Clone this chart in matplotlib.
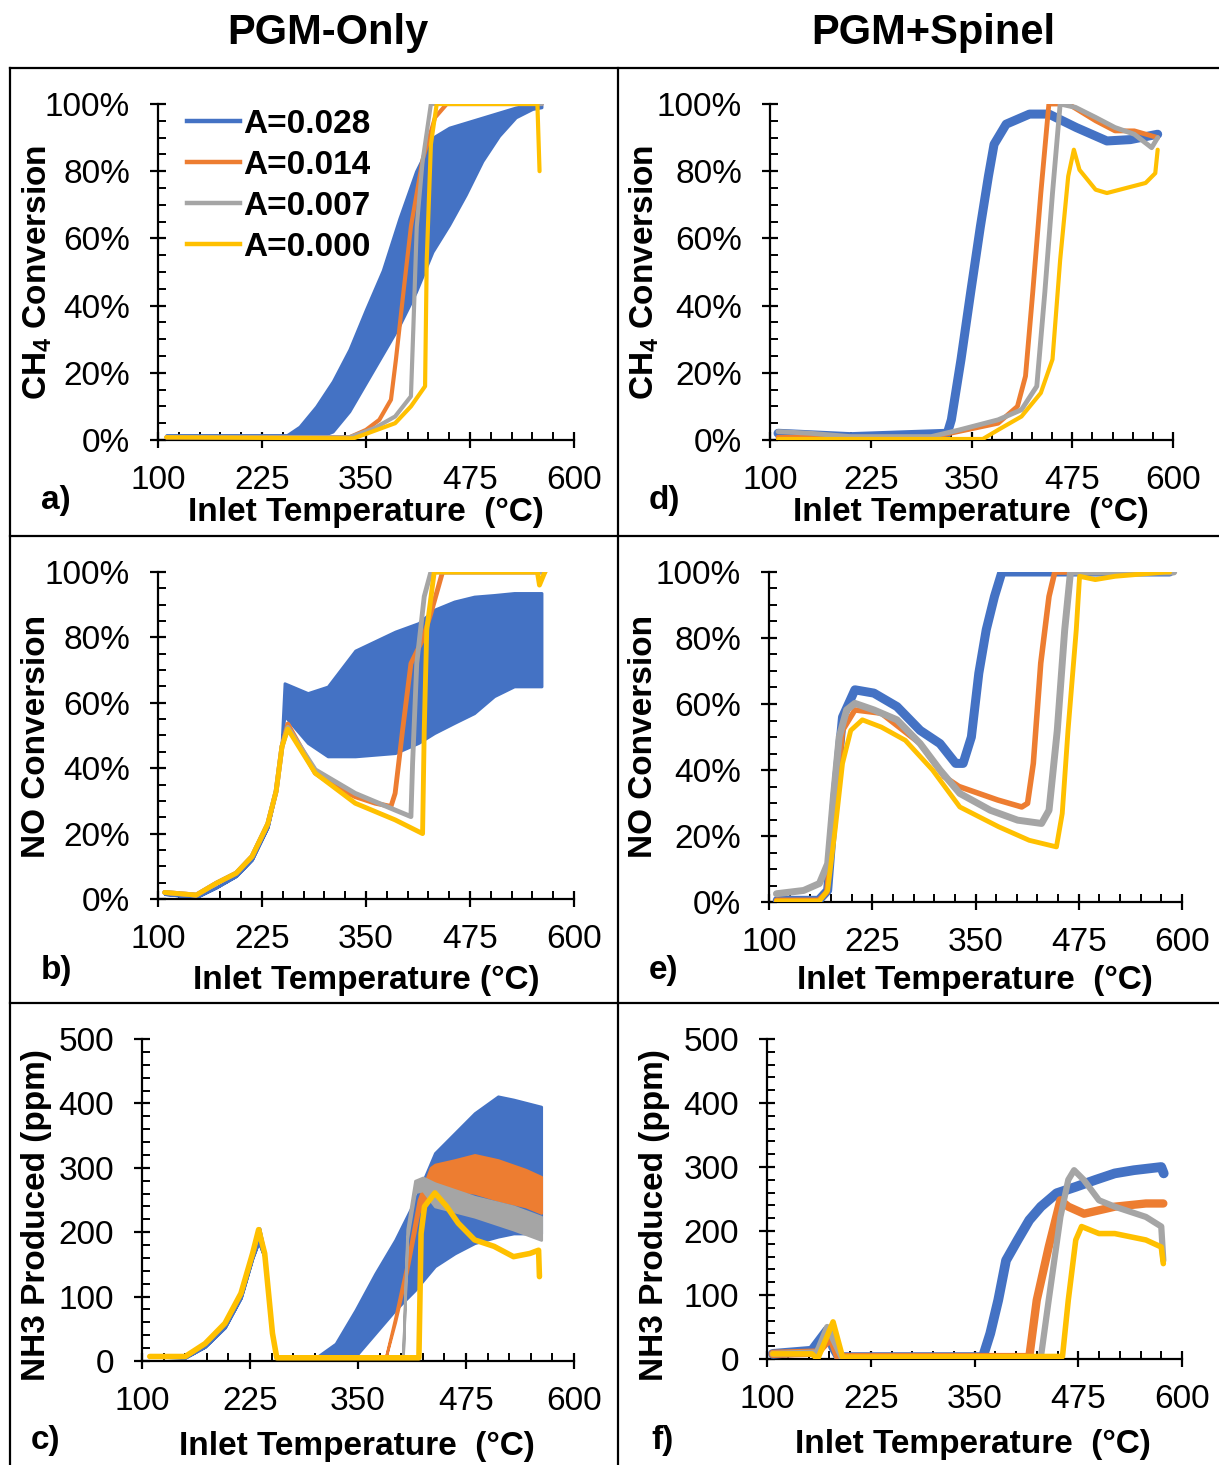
import numpy as np
import matplotlib
matplotlib.use("Agg")
import matplotlib.pyplot as plt
from matplotlib.lines import Line2D
from matplotlib.ticker import MultipleLocator, FixedLocator, FuncFormatter

plt.rcParams['font.family'] = ['Liberation Sans', 'DejaVu Sans']
plt.rcParams['mathtext.fontset'] = 'custom'
plt.rcParams['mathtext.rm'] = 'Liberation Sans:bold'
plt.rcParams['mathtext.bf'] = 'Liberation Sans:bold'

W, H = 1219, 1465

C_BLUE, C_ORANGE, C_GRAY, C_YELLOW = '#4472C4', '#ED7D31', '#A5A5A5', '#FFC000'
labels = ['A=0.028', 'A=0.014', 'A=0.007', 'A=0.000']
x_major = [100, 225, 350, 475, 600]

# ---------------- a) CH4 conversion, PGM-only (%)
a_blue_T = [110, 255, 270, 290, 310, 330, 350, 370, 390, 410, 430, 450, 470, 490, 510, 530, 550, 561]
a_blue_lo = [0.5, 0.5, 0.5, 0.5, 2.5, 8.5, 17, 25.5, 34, 44, 56, 64, 73, 83, 90.5, 96, 98.5, 99]
a_blue_hi = [1.5, 1.5, 4, 10, 17.5, 27, 39, 50.5, 66, 80, 90, 93, 94.5, 96, 97.5, 99, 100, 100]
a_orange_T = [110, 330, 350, 366, 380, 386, 395, 404, 418, 433, 447, 561]
a_orange = [0.8, 0.8, 3, 6, 12, 24, 44, 63.5, 83.4, 96, 100, 100]
a_gray_T = [110, 330, 360, 385, 404, 407, 411, 418, 428, 561]
a_gray = [0.8, 0.8, 3.5, 7, 13, 34, 63.5, 83, 100, 100]
a_yellow_T = [110, 335, 352, 385, 404, 421, 423, 428, 435, 556, 558.6]
a_yellow = [0.8, 0.5, 2, 5, 10, 16, 53.6, 88, 100, 100, 80]

# ---------------- d) CH4 conversion, PGM+Spinel (%)
d_blue_T = [110, 200, 320, 325, 337, 349, 361, 371, 378, 393, 422, 446, 480, 518, 547, 581]
d_blue = [2, 1, 2, 6, 24, 44, 63.5, 78.5, 88, 94, 97, 97, 93, 89, 89.4, 91]
d_orange_T = [110, 300, 383, 407, 417, 426, 436, 446, 470, 504, 528, 552, 581]
d_orange = [0.8, 0.8, 5, 10, 19, 44, 73.5, 100, 100, 95, 92, 92, 90]
d_gray_T = [110, 150, 200, 300, 335, 383, 412, 431, 441, 450.5, 460, 479, 504, 528, 552, 573.5, 581]
d_gray = [2.5, 2, 1, 1, 3, 6, 9, 16, 44, 73.5, 100, 99, 96, 93, 91, 87, 90]
d_yellow_T = [110, 364, 383, 412, 436, 450.5, 460, 470, 477, 484, 504, 518, 542, 566, 578, 581]
d_yellow = [0.3, 0.3, 3, 7, 14, 24, 53.6, 78.5, 86.4, 80.4, 74.5, 73.5, 75, 76.5, 79.4, 86.4]

# ---------------- b) NO conversion, PGM-only (%)
b_blue_T = [108, 146, 170, 194, 213, 232, 241, 248, 252, 280, 304, 337, 385, 413, 432, 456, 480, 504, 528, 561]
b_blue_lo = [1.5, 0.5, 3.5, 7, 12, 22, 32, 45, 56, 47.7, 43.6, 43.6, 44.6, 47.7, 50.7, 53.8, 56.8, 62, 65, 65]
b_blue_hi = [1.5, 0.5, 3.5, 7, 12, 22, 32, 45, 66, 63, 65, 76, 81.8, 84.4, 88.5, 91, 92.5, 93, 93.6, 93.6]
b_orange_T = [108, 146, 170, 194, 213, 232, 242, 249, 256, 289, 313, 337, 361, 380, 385, 394, 404, 418, 428, 442, 565]
b_orange = [2, 1.2, 4.8, 7.9, 13, 23, 33, 46.6, 53.5, 38.5, 34.4, 31.3, 29.3, 28.3, 32.3, 51.7, 72, 79.3, 87.4, 100, 100]
b_gray_T = [108, 146, 170, 194, 213, 232, 242, 249, 256, 289, 337, 385, 404, 406, 411, 420, 428, 565]
b_gray = [2, 1.2, 4.8, 7.9, 13, 23, 33, 46.6, 52.5, 39.5, 32.3, 27.2, 25.2, 41.5, 72, 92.5, 100, 100]
b_yellow_T = [108, 146, 170, 194, 213, 232, 242, 249, 256, 289, 337, 385, 418, 420, 423, 432, 556, 558.5, 565]
b_yellow = [2, 1.2, 4.8, 7.9, 13, 23, 33, 46.6, 52, 38.5, 29.3, 24.2, 20, 51.7, 82.3, 100, 100, 96, 100]

# ---------------- e) NO conversion, PGM+Spinel (%)
e_blue_T = [110, 160, 171, 180, 189, 204, 227, 255, 283, 307, 326, 335, 345, 354, 363, 373, 382, 585]
e_blue = [0.5, 0.5, 3.5, 32, 56, 64.3, 63.3, 59.2, 52, 48, 42, 42, 50, 69.3, 82.5, 92.6, 100, 100]
e_orange_T = [109, 160, 170, 180, 189, 204, 236, 283, 312, 330, 377, 406, 413, 420, 429, 439, 446, 590]
e_orange = [0.5, 0.5, 3, 27, 52, 58.2, 57.2, 48, 38, 35, 30.9, 28.8, 29.9, 42, 72.4, 92.6, 100, 100]
e_gray_T = [109, 142, 161, 171, 178, 185, 194, 204, 227, 255, 283, 307, 331, 368, 401, 430, 439, 449, 458, 465, 590]
e_gray = [2.5, 3.5, 5.6, 11.6, 31.9, 50, 58.2, 60.2, 58.2, 55.2, 48, 40, 32.9, 27.8, 24.8, 23.8, 27.8, 52, 82.5, 100, 100]
e_yellow_T = [109, 161, 171, 180, 189, 199, 213, 236, 265, 298, 331, 378, 415, 448, 455, 462, 472, 476, 495, 519, 580, 585]
e_yellow = [0.3, 0.3, 3.5, 21.8, 42, 52, 55.2, 53, 49, 40, 28.8, 22.8, 18.7, 16.7, 26.8, 52, 82.5, 98.7, 97.7, 98.7, 100, 100]

# ---------------- c) NH3 produced, PGM-only (ppm)
c_blue_T = [109, 150, 173, 196, 214.5, 228, 235, 242, 251, 256, 301, 324, 347, 370, 393, 416, 439, 462, 485, 512, 530, 562]
c_blue_lo = [7, 5, 22, 52, 98, 160, 185, 160, 43, 5, 5, 5, 7, 43, 79, 110, 147, 167, 183, 193, 198, 198]
c_blue_hi = [7, 5, 22, 52, 98, 160, 185, 160, 43, 5, 5, 27, 79, 136, 188, 250, 323, 354, 385, 411, 406, 395]
c_orange_T = [109, 150, 173, 196, 214.5, 228, 235, 242, 251, 256, 382, 393, 407, 420, 434, 439, 462, 485, 512, 544, 562]
c_orange_lo = [7, 7, 27, 58.5, 105, 167, 200, 167, 43, 5, 5, 60, 140, 230, 270, 261, 266, 261, 250, 240, 230]
c_orange_hi = [7, 7, 27, 58.5, 105, 167, 200, 167, 43, 5, 5, 68, 155, 250, 300, 305, 312, 320, 312, 297, 286]
c_gray_T = [109, 150, 173, 196, 214.5, 228, 236, 242, 251, 256, 402, 407, 416, 425, 439, 485, 530, 562]
c_gray_lo = [7, 7, 27, 58.5, 105, 167, 206, 167, 43, 5, 5, 190, 262, 265, 240, 224, 204, 188]
c_gray_hi = [7, 7, 27, 58.5, 105, 167, 206, 167, 43, 5, 5, 205, 280, 285, 276, 255, 240, 224]
c_yellow_T = [109, 150, 173, 196, 214.5, 228, 235, 242, 251, 256, 420.5, 423, 427, 439, 452.6, 466, 485, 507.5, 530, 549, 559, 560]
c_yellow = [7, 7, 27, 58.5, 105, 167, 204, 167, 43, 5, 5, 198, 240, 261, 240, 214, 188, 178, 162, 167, 172, 131]

# ---------------- f) NH3 produced, PGM+Spinel (ppm)
f_blue_T = [107, 154, 172.6, 179.6, 186.6, 360, 369, 378.6, 388, 402, 416, 430, 449, 472, 496, 519, 542, 575, 578]
f_blue = [8, 13, 45, 19, 3, 3, 40, 92, 154, 186, 217, 238, 259, 269, 280, 290, 295, 300, 290]
f_orange_T = [107, 160, 177, 186, 416, 425, 439.4, 453.5, 463, 482, 519, 556.5, 577.5]
f_orange = [8, 10, 34, 3, 3, 92, 175, 248, 238, 227, 238, 243, 243]
f_gray_T = [107, 160, 172.6, 191, 430, 439.4, 453.5, 463, 470, 481.6, 500, 519, 556.5, 575, 577.5]
f_gray = [8, 10, 50, 0, 3, 92, 222, 280, 295, 280, 248, 238, 222, 207, 154]
f_yellow_T = [107, 154, 161, 179.6, 191, 456, 463, 472, 479, 500, 519, 556.5, 575, 577.5]
f_yellow = [8, 8, 0, 58, 3, 4, 92, 186, 207, 196, 196, 186, 175, 149]


fig = plt.figure(figsize=(W / 100, H / 100), dpi=100)


def px_axes(l, r, t, b):
    return fig.add_axes([l / W, 1 - b / H, (r - l) / W, (b - t) / H])


def style_axes(ax, ymax, ymajor, yminor, pct):
    ax.set_xlim(100, 600)
    ax.set_ylim(0, ymax)
    ax.spines['top'].set_visible(False)
    ax.spines['right'].set_visible(False)
    for s in ['left', 'bottom']:
        ax.spines[s].set_linewidth(1.6)
    ax.xaxis.set_major_locator(FixedLocator(x_major))
    ax.xaxis.set_minor_locator(MultipleLocator(25))
    ax.yaxis.set_major_locator(MultipleLocator(ymajor))
    ax.yaxis.set_minor_locator(MultipleLocator(yminor))
    if pct:
        ax.yaxis.set_major_formatter(FuncFormatter(lambda v, p: f'{v:.0f}%'))
    ax.tick_params(which='major', direction='inout', length=12, width=1.6, labelsize=24)
    ax.tick_params(which='minor', direction='in', length=6, width=1.4)
    ax.tick_params(axis='x', which='major', pad=12)
    ax.tick_params(axis='y', which='major', pad=14)
    ax.set_facecolor('none')


def band(ax, T, lo, hi, c):
    ax.fill_between(T, lo, hi, color=c, edgecolor=c, linewidth=2.0, zorder=2)


def line(ax, T, y, c, lw=3.0):
    ax.plot(T, y, color=c, lw=lw, solid_joinstyle='round', solid_capstyle='round', zorder=3)


# panel a
ax = px_axes(158, 574, 104, 440)
style_axes(ax, 100, 20, 5, True)
band(ax, a_blue_T, a_blue_lo, a_blue_hi, C_BLUE)
line(ax, a_orange_T, a_orange, C_ORANGE)
line(ax, a_gray_T, a_gray, C_GRAY)
line(ax, a_yellow_T, a_yellow, C_YELLOW)
handles = [Line2D([], [], color=c, lw=3.2) for c in [C_BLUE, C_ORANGE, C_GRAY, C_YELLOW]]
leg = ax.legend(handles, labels, loc='upper left', bbox_to_anchor=((187 - 158) / 416, 1 - 5 / 336),
                frameon=False, handlelength=1.6, handletextpad=0.1, labelspacing=0.3,
                borderaxespad=0, borderpad=0, prop={'weight': 'bold', 'size': 24})

# panel d
ax = px_axes(770, 1173, 104, 440)
style_axes(ax, 100, 20, 5, True)
line(ax, d_blue_T, d_blue, C_BLUE, lw=6.5)
line(ax, d_orange_T, d_orange, C_ORANGE, lw=3.5)
line(ax, d_gray_T, d_gray, C_GRAY, lw=3.5)
line(ax, d_yellow_T, d_yellow, C_YELLOW, lw=3.0)

# panel b
ax = px_axes(158, 574, 572, 899)
style_axes(ax, 100, 20, 5, True)
band(ax, b_blue_T, b_blue_lo, b_blue_hi, C_BLUE)
line(ax, b_orange_T, b_orange, C_ORANGE, lw=3.5)
line(ax, b_gray_T, b_gray, C_GRAY, lw=3.5)
line(ax, b_yellow_T, b_yellow, C_YELLOW, lw=3.5)

# panel e
ax = px_axes(769, 1182, 572, 902)
style_axes(ax, 100, 20, 5, True)
line(ax, e_blue_T, e_blue, C_BLUE, lw=6.5)
line(ax, e_orange_T, e_orange, C_ORANGE, lw=4)
line(ax, e_gray_T, e_gray, C_GRAY, lw=5)
line(ax, e_yellow_T, e_yellow, C_YELLOW, lw=3.5)

# panel c
ax = px_axes(142, 574, 1039, 1361)
style_axes(ax, 500, 100, 20, False)
band(ax, c_blue_T, c_blue_lo, c_blue_hi, C_BLUE)
band(ax, c_orange_T, c_orange_lo, c_orange_hi, C_ORANGE)
band(ax, c_gray_T, c_gray_lo, c_gray_hi, C_GRAY)
line(ax, c_yellow_T, c_yellow, C_YELLOW, lw=4)

# panel f
ax = px_axes(767, 1182, 1039, 1359)
style_axes(ax, 500, 100, 20, False)
line(ax, f_blue_T, f_blue, C_BLUE, lw=7)
line(ax, f_orange_T, f_orange, C_ORANGE, lw=6)
line(ax, f_gray_T, f_gray, C_GRAY, lw=4.5)
line(ax, f_yellow_T, f_yellow, C_YELLOW, lw=4)


def ftext(x, y, s, **kw):
    fig.text(x / W, 1 - y / H, s, ha='center', va='center', **kw)


ftext(328, 33, 'PGM-Only', fontsize=30, fontweight='bold')
ftext(933, 33, 'PGM+Spinel', fontsize=30, fontweight='bold')

ylab = [(37, 272, r'CH$_\mathrm{4}$ Conversion'), (644, 272, r'CH$_\mathrm{4}$ Conversion'),
        (37, 736, 'NO Conversion'), (644, 736, 'NO Conversion'),
        (37, 1215, 'NH3 Produced (ppm)'), (655, 1215, 'NH3 Produced (ppm)')]
for x, y, s in ylab:
    ftext(x, y, s, fontsize=24, fontweight='bold', rotation=90)

xlab = [(366, 513, 'Inlet Temperature  (°C)'), (971, 513, 'Inlet Temperature  (°C)'),
        (366, 980, 'Inlet Temperature (°C)'), (975, 980, 'Inlet Temperature  (°C)'),
        (357, 1446, 'Inlet Temperature  (°C)'), (973, 1444, 'Inlet Temperature  (°C)')]
for x, y, s in xlab:
    ftext(x, y, s, fontsize=24, fontweight='bold')

plab = [(56, 500, 'a)'), (664, 500, 'd)'), (56, 970, 'b)'), (664, 970, 'e)'),
        (46, 1440, 'c)'), (662, 1440, 'f)')]
for x, y, s in plab:
    ftext(x, y, s, fontsize=24, fontweight='bold')

# panel frame lines
lw_box = 1.6
for x0, y0, x1, y1 in [(10, 68, 1219, 68), (10, 536, 1219, 536), (10, 1003, 1219, 1003),
                       (10, 68, 10, 1465), (618, 68, 618, 1465)]:
    fig.add_artist(Line2D([x0 / W, x1 / W], [1 - y0 / H, 1 - y1 / H], color='black', lw=lw_box))

fig.savefig('out.png', dpi=100)
